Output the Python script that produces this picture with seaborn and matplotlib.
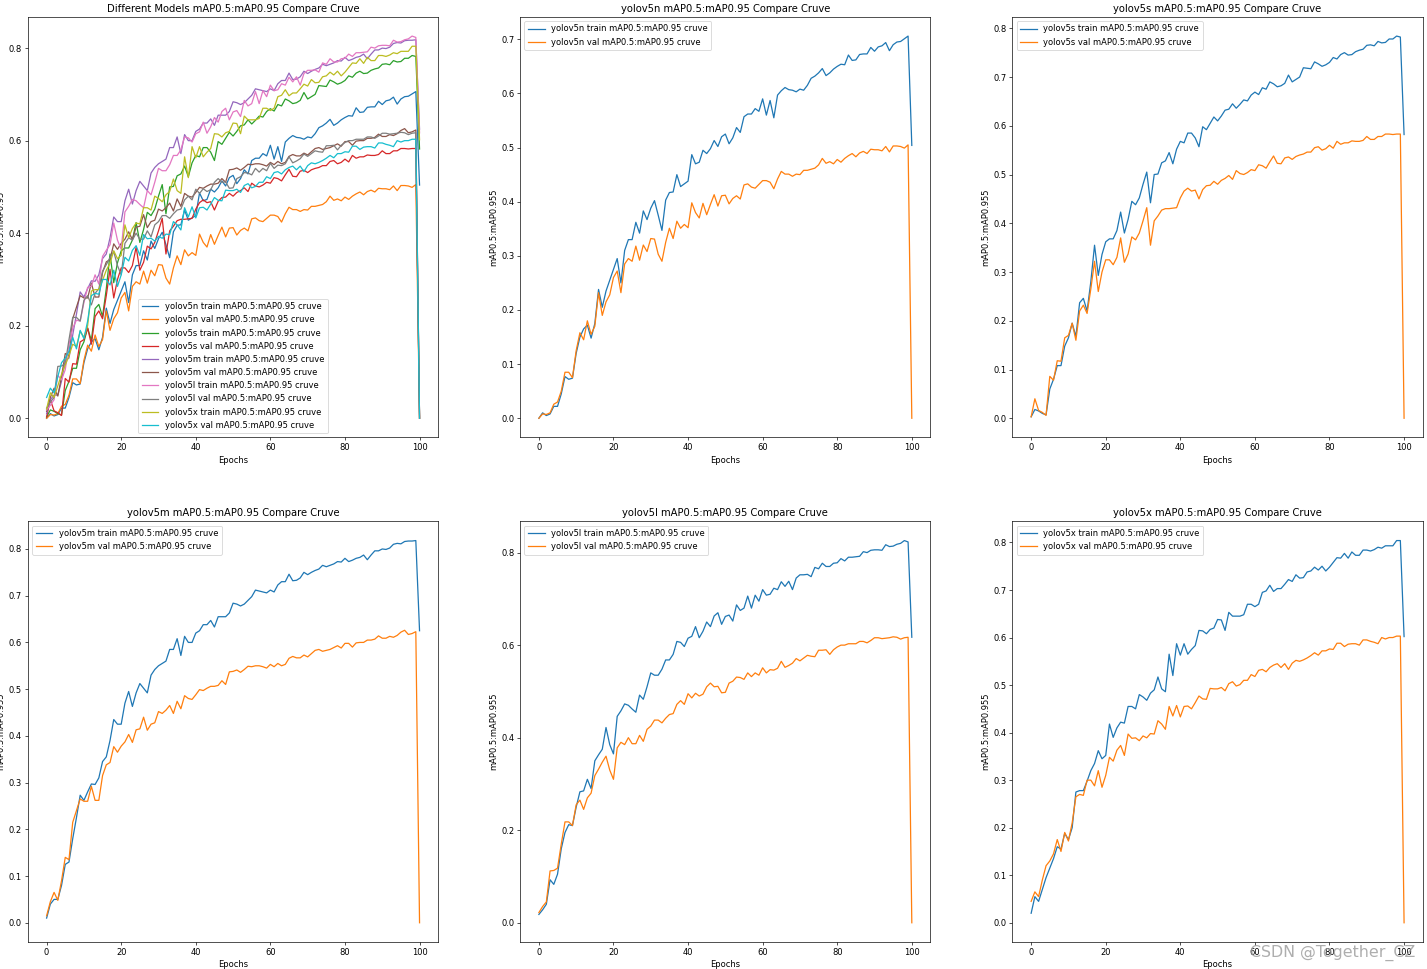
import numpy as np
import pandas as pd
import matplotlib
matplotlib.use('Agg')
import matplotlib.pyplot as plt
import seaborn as sns

epochs = list(range(101))

# yolov5n
n_train = [0.000, 0.010, 0.005, 0.008, 0.022, 0.022, 0.045, 0.077, 0.072, 0.074,
           0.120, 0.150, 0.165, 0.172, 0.148, 0.175, 0.238, 0.205, 0.235, 0.255,
           0.275, 0.295, 0.250, 0.310, 0.330, 0.330, 0.362, 0.342, 0.383, 0.367,
           0.388, 0.402, 0.375, 0.347, 0.403, 0.417, 0.418, 0.450, 0.428, 0.433,
           0.438, 0.487, 0.470, 0.473, 0.495, 0.489, 0.498, 0.513, 0.502, 0.520,
           0.525, 0.507, 0.518, 0.537, 0.528, 0.557, 0.562, 0.562, 0.572, 0.567,
           0.590, 0.560, 0.587, 0.555, 0.597, 0.605, 0.611, 0.607, 0.606, 0.603,
           0.608, 0.606, 0.615, 0.628, 0.632, 0.638, 0.646, 0.633, 0.638, 0.645,
           0.650, 0.654, 0.653, 0.671, 0.661, 0.662, 0.672, 0.673, 0.673, 0.685,
           0.678, 0.686, 0.688, 0.694, 0.679, 0.690, 0.695, 0.696, 0.701, 0.706,
           0.504]
n_val = [0.000, 0.008, 0.007, 0.010, 0.026, 0.030, 0.050, 0.085, 0.085, 0.075,
         0.125, 0.158, 0.145, 0.180, 0.155, 0.170, 0.232, 0.190, 0.215, 0.228,
         0.260, 0.272, 0.232, 0.285, 0.295, 0.290, 0.318, 0.292, 0.320, 0.308,
         0.332, 0.331, 0.303, 0.290, 0.325, 0.351, 0.332, 0.364, 0.351, 0.358,
         0.352, 0.398, 0.380, 0.370, 0.397, 0.376, 0.395, 0.413, 0.392, 0.411,
         0.412, 0.396, 0.406, 0.411, 0.405, 0.431, 0.433, 0.427, 0.425, 0.432,
         0.439, 0.439, 0.436, 0.424, 0.442, 0.456, 0.451, 0.451, 0.447, 0.451,
         0.450, 0.458, 0.458, 0.460, 0.462, 0.468, 0.480, 0.471, 0.474, 0.470,
         0.478, 0.473, 0.480, 0.485, 0.489, 0.483, 0.490, 0.493, 0.489, 0.497,
         0.496, 0.496, 0.494, 0.502, 0.492, 0.503, 0.503, 0.502, 0.499, 0.505,
         0.000]

# yolov5s
s_train = [0.003, 0.018, 0.015, 0.010, 0.007, 0.060, 0.080, 0.108, 0.108, 0.148,
           0.165, 0.195, 0.168, 0.237, 0.246, 0.220, 0.280, 0.355, 0.293, 0.336,
           0.362, 0.368, 0.368, 0.385, 0.423, 0.380, 0.408, 0.445, 0.438, 0.452,
           0.480, 0.505, 0.442, 0.500, 0.501, 0.524, 0.528, 0.545, 0.522, 0.552,
           0.568, 0.565, 0.585, 0.585, 0.575, 0.557, 0.598, 0.592, 0.605, 0.618,
           0.610, 0.620, 0.632, 0.634, 0.645, 0.636, 0.644, 0.653, 0.651, 0.663,
           0.669, 0.664, 0.678, 0.675, 0.690, 0.686, 0.680, 0.682, 0.687, 0.704,
           0.690, 0.695, 0.700, 0.719, 0.718, 0.717, 0.731, 0.727, 0.722, 0.725,
           0.730, 0.740, 0.737, 0.746, 0.750, 0.745, 0.746, 0.752, 0.755, 0.757,
           0.765, 0.766, 0.764, 0.773, 0.770, 0.771, 0.778, 0.778, 0.784, 0.782,
           0.582]
s_val = [0.003, 0.040, 0.016, 0.012, 0.006, 0.086, 0.078, 0.118, 0.117, 0.165,
         0.170, 0.195, 0.160, 0.220, 0.232, 0.215, 0.265, 0.322, 0.260, 0.300,
         0.325, 0.325, 0.315, 0.330, 0.370, 0.320, 0.337, 0.372, 0.366, 0.380,
         0.405, 0.432, 0.355, 0.405, 0.415, 0.427, 0.430, 0.430, 0.431, 0.432,
         0.452, 0.466, 0.472, 0.466, 0.468, 0.450, 0.469, 0.477, 0.478, 0.486,
         0.480, 0.488, 0.492, 0.498, 0.490, 0.508, 0.502, 0.500, 0.504, 0.510,
         0.508, 0.520, 0.518, 0.513, 0.526, 0.538, 0.523, 0.522, 0.534, 0.536,
         0.531, 0.537, 0.540, 0.542, 0.546, 0.546, 0.555, 0.557, 0.550, 0.553,
         0.560, 0.554, 0.568, 0.562, 0.565, 0.565, 0.569, 0.568, 0.568, 0.570,
         0.578, 0.572, 0.572, 0.578, 0.578, 0.583, 0.583, 0.582, 0.583, 0.583,
         0.000]

# yolov5m
m_train = [0.010, 0.040, 0.050, 0.050, 0.080, 0.125, 0.130, 0.180, 0.225, 0.273,
           0.262, 0.280, 0.297, 0.296, 0.310, 0.345, 0.355, 0.390, 0.435, 0.425,
           0.425, 0.470, 0.495, 0.463, 0.492, 0.512, 0.502, 0.492, 0.530, 0.542,
           0.550, 0.555, 0.560, 0.585, 0.585, 0.608, 0.572, 0.613, 0.600, 0.600,
           0.620, 0.625, 0.638, 0.638, 0.647, 0.633, 0.655, 0.655, 0.655, 0.663,
           0.684, 0.682, 0.678, 0.682, 0.690, 0.698, 0.712, 0.710, 0.708, 0.706,
           0.712, 0.708, 0.723, 0.730, 0.730, 0.746, 0.732, 0.733, 0.738, 0.750,
           0.745, 0.750, 0.754, 0.757, 0.765, 0.762, 0.765, 0.768, 0.773, 0.772,
           0.780, 0.773, 0.776, 0.780, 0.782, 0.787, 0.777, 0.787, 0.796, 0.796,
           0.800, 0.799, 0.802, 0.810, 0.812, 0.811, 0.816, 0.817, 0.817, 0.818,
           0.625]
m_val = [0.015, 0.045, 0.065, 0.048, 0.090, 0.140, 0.135, 0.215, 0.240, 0.265,
         0.260, 0.260, 0.292, 0.262, 0.262, 0.315, 0.338, 0.343, 0.377, 0.365,
         0.378, 0.387, 0.403, 0.386, 0.413, 0.415, 0.440, 0.412, 0.425, 0.428,
         0.452, 0.448, 0.455, 0.465, 0.448, 0.474, 0.458, 0.486, 0.480, 0.478,
         0.488, 0.499, 0.497, 0.502, 0.506, 0.506, 0.508, 0.518, 0.510, 0.537,
         0.538, 0.541, 0.536, 0.542, 0.549, 0.548, 0.550, 0.550, 0.548, 0.545,
         0.553, 0.548, 0.555, 0.550, 0.553, 0.566, 0.570, 0.567, 0.567, 0.573,
         0.569, 0.576, 0.583, 0.585, 0.581, 0.583, 0.585, 0.589, 0.593, 0.588,
         0.598, 0.598, 0.590, 0.599, 0.600, 0.600, 0.605, 0.605, 0.607, 0.614,
         0.609, 0.609, 0.613, 0.611, 0.615, 0.622, 0.626, 0.617, 0.619, 0.623,
         0.000]

# yolov5l
l_train = [0.018, 0.028, 0.040, 0.093, 0.083, 0.105, 0.160, 0.195, 0.212, 0.210,
           0.250, 0.283, 0.285, 0.310, 0.290, 0.350, 0.363, 0.375, 0.422, 0.385,
           0.365, 0.446, 0.458, 0.473, 0.470, 0.462, 0.455, 0.492, 0.483, 0.510,
           0.540, 0.535, 0.535, 0.548, 0.568, 0.568, 0.580, 0.608, 0.606, 0.597,
           0.615, 0.619, 0.640, 0.616, 0.630, 0.650, 0.640, 0.663, 0.670, 0.645,
           0.662, 0.665, 0.652, 0.687, 0.675, 0.680, 0.706, 0.680, 0.708, 0.695,
           0.720, 0.708, 0.710, 0.723, 0.720, 0.737, 0.727, 0.738, 0.720, 0.745,
           0.752, 0.752, 0.753, 0.748, 0.768, 0.765, 0.777, 0.770, 0.770, 0.777,
           0.778, 0.787, 0.782, 0.790, 0.790, 0.791, 0.792, 0.802, 0.800, 0.805,
           0.806, 0.806, 0.805, 0.817, 0.813, 0.814, 0.818, 0.820, 0.826, 0.823,
           0.617]
l_val = [0.022, 0.035, 0.045, 0.112, 0.113, 0.118, 0.170, 0.218, 0.218, 0.210,
         0.255, 0.265, 0.245, 0.270, 0.280, 0.318, 0.332, 0.347, 0.360, 0.330,
         0.310, 0.378, 0.390, 0.385, 0.400, 0.387, 0.387, 0.405, 0.392, 0.418,
         0.425, 0.438, 0.438, 0.432, 0.442, 0.450, 0.452, 0.472, 0.480, 0.472,
         0.495, 0.486, 0.496, 0.490, 0.494, 0.510, 0.518, 0.510, 0.511, 0.497,
         0.498, 0.518, 0.522, 0.531, 0.530, 0.526, 0.540, 0.532, 0.540, 0.535,
         0.551, 0.540, 0.547, 0.546, 0.550, 0.565, 0.552, 0.556, 0.561, 0.571,
         0.566, 0.572, 0.578, 0.576, 0.575, 0.589, 0.589, 0.590, 0.580, 0.590,
         0.596, 0.600, 0.600, 0.603, 0.603, 0.603, 0.608, 0.608, 0.605, 0.610,
         0.616, 0.616, 0.614, 0.615, 0.616, 0.618, 0.617, 0.613, 0.616, 0.617,
         0.000]

# yolov5x
x_train = [0.020, 0.055, 0.045, 0.070, 0.095, 0.115, 0.135, 0.160, 0.155, 0.188,
           0.175, 0.200, 0.275, 0.278, 0.278, 0.298, 0.320, 0.335, 0.362, 0.345,
           0.352, 0.418, 0.390, 0.410, 0.422, 0.420, 0.455, 0.455, 0.450, 0.480,
           0.475, 0.468, 0.483, 0.490, 0.517, 0.492, 0.486, 0.565, 0.520, 0.587,
           0.563, 0.587, 0.565, 0.575, 0.583, 0.615, 0.614, 0.608, 0.617, 0.620,
           0.638, 0.637, 0.615, 0.653, 0.645, 0.645, 0.645, 0.648, 0.670, 0.670,
           0.665, 0.670, 0.695, 0.698, 0.710, 0.697, 0.703, 0.703, 0.712, 0.722,
           0.718, 0.732, 0.725, 0.726, 0.738, 0.740, 0.748, 0.742, 0.750, 0.740,
           0.748, 0.758, 0.768, 0.767, 0.777, 0.767, 0.780, 0.773, 0.773, 0.784,
           0.784, 0.782, 0.785, 0.790, 0.788, 0.793, 0.793, 0.793, 0.804, 0.804,
           0.602]
x_val = [0.045, 0.065, 0.055, 0.090, 0.120, 0.130, 0.145, 0.175, 0.150, 0.190,
         0.172, 0.210, 0.265, 0.270, 0.268, 0.300, 0.300, 0.288, 0.320, 0.285,
         0.310, 0.348, 0.340, 0.363, 0.373, 0.352, 0.397, 0.388, 0.389, 0.383,
         0.393, 0.389, 0.398, 0.397, 0.425, 0.418, 0.407, 0.455, 0.435, 0.457,
         0.433, 0.455, 0.456, 0.450, 0.463, 0.477, 0.471, 0.470, 0.493, 0.492,
         0.492, 0.495, 0.488, 0.503, 0.507, 0.498, 0.501, 0.510, 0.510, 0.522,
         0.518, 0.531, 0.533, 0.528, 0.537, 0.542, 0.545, 0.537, 0.545, 0.533,
         0.546, 0.552, 0.550, 0.553, 0.557, 0.562, 0.568, 0.563, 0.572, 0.572,
         0.576, 0.575, 0.588, 0.588, 0.581, 0.586, 0.587, 0.587, 0.584, 0.595,
         0.595, 0.592, 0.590, 0.587, 0.600, 0.597, 0.600, 0.600, 0.603, 0.603,
         0.000]

models = ['yolov5n', 'yolov5s', 'yolov5m', 'yolov5l', 'yolov5x']
train_curves = [n_train, s_train, m_train, l_train, x_train]
val_curves = [n_val, s_val, m_val, l_val, x_val]

palette = sns.color_palette('tab10', 10)

dpi = 60.3
fig, axs = plt.subplots(2, 3, figsize=(1427 / dpi, 969 / dpi), dpi=dpi)
fig.subplots_adjust(left=0.0196, right=0.997, bottom=0.028, top=0.9825,
                    wspace=0.2, hspace=0.2)

# combined plot
ax = axs[0, 0]
k = 0
for name, tr, va in zip(models, train_curves, val_curves):
    sns.lineplot(x=epochs, y=tr, ax=ax, color=palette[k],
                 label=f'{name} train mAP0.5:mAP0.95 cruve')
    sns.lineplot(x=epochs, y=va, ax=ax, color=palette[k + 1],
                 label=f'{name} val mAP0.5:mAP0.95 cruve')
    k += 2
ax.set_title('Different Models mAP0.5:mAP0.95 Compare Cruve')
ax.set_xlabel('Epochs')
ax.set_ylabel('mAP0.5:mAP0.95')
ax.legend(loc='lower center')

# one plot per model
for i, (name, tr, va) in enumerate(zip(models, train_curves, val_curves)):
    ax = axs.flat[i + 1]
    sns.lineplot(x=epochs, y=tr, ax=ax, color=palette[0],
                 label=f'{name} train mAP0.5:mAP0.95 cruve')
    sns.lineplot(x=epochs, y=va, ax=ax, color=palette[1],
                 label=f'{name} val mAP0.5:mAP0.95 cruve')
    ax.set_title(f'{name} mAP0.5:mAP0.95 Compare Cruve')
    ax.set_xlabel('Epochs')
    ax.set_ylabel('mAP0.5:mAP0.955')
    ax.legend(loc='upper left')

# watermark from the source image
fig.text(0.992, 0.008, 'CSDN @Together_CZ', ha='right', va='bottom',
         fontsize=19, color='#9a9a9a', alpha=0.8)

fig.savefig('out.png', dpi=dpi)
